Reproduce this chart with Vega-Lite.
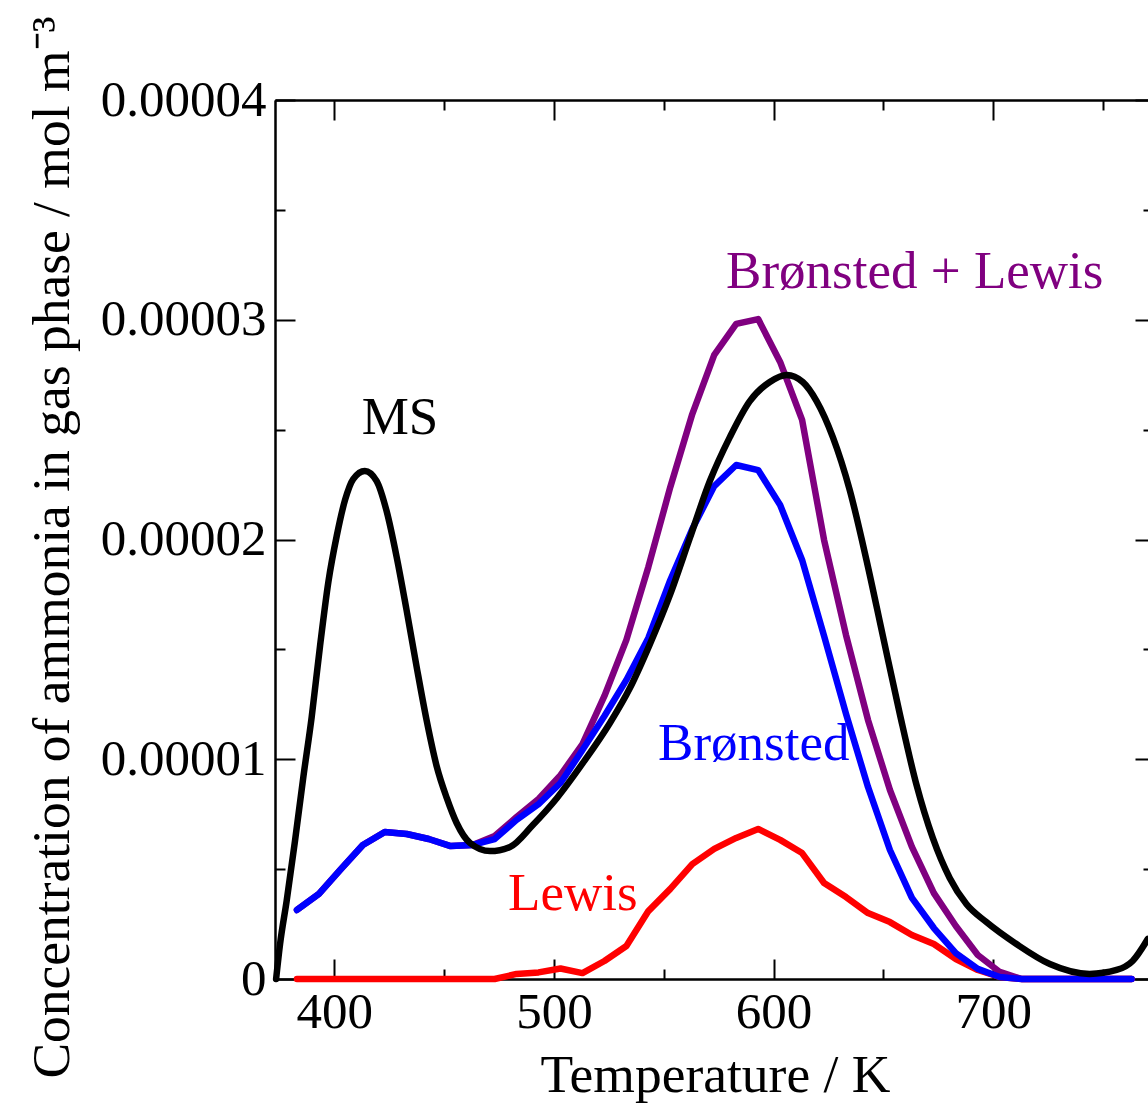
{
  "$schema": "https://vega.github.io/schema/vega-lite/v6.json",
  "width": 873,
  "height": 879,
  "autosize": {"type": "none"},
  "padding": {"left": 275, "top": 100, "right": 0, "bottom": 125},
  "background": "white",
  "config": {
    "font": "Liberation Serif",
    "view": {"stroke": null},
    "axis": {
      "grid": false,
      "domainColor": "black",
      "domainWidth": 2,
      "tickColor": "black",
      "tickWidth": 2,
      "labelFont": "Liberation Serif",
      "labelFontSize": 51,
      "labelColor": "black",
      "labelOverlap": false,
      "labelFlush": false,
      "titleFont": "Liberation Serif",
      "titleFontSize": 53.5,
      "titleFontWeight": "normal",
      "titleColor": "black"
    }
  },
  "datasets": {
    "curves": [
      {"series": "Lewis", "T": 383, "c": 0},
      {"series": "Lewis", "T": 393, "c": 0},
      {"series": "Lewis", "T": 403, "c": 0},
      {"series": "Lewis", "T": 413, "c": 0},
      {"series": "Lewis", "T": 423, "c": 0},
      {"series": "Lewis", "T": 433, "c": 0},
      {"series": "Lewis", "T": 443, "c": 0},
      {"series": "Lewis", "T": 453, "c": 0},
      {"series": "Lewis", "T": 463, "c": 0},
      {"series": "Lewis", "T": 473, "c": 0},
      {"series": "Lewis", "T": 483, "c": 2.3e-7},
      {"series": "Lewis", "T": 493, "c": 3.0e-7},
      {"series": "Lewis", "T": 503, "c": 4.8e-7},
      {"series": "Lewis", "T": 513, "c": 2.7e-7},
      {"series": "Lewis", "T": 523, "c": 8.2e-7},
      {"series": "Lewis", "T": 533, "c": 1.50e-6},
      {"series": "Lewis", "T": 543, "c": 3.09e-6},
      {"series": "Lewis", "T": 553, "c": 4.10e-6},
      {"series": "Lewis", "T": 563, "c": 5.23e-6},
      {"series": "Lewis", "T": 573, "c": 5.92e-6},
      {"series": "Lewis", "T": 583, "c": 6.42e-6},
      {"series": "Lewis", "T": 593, "c": 6.83e-6},
      {"series": "Lewis", "T": 603, "c": 6.33e-6},
      {"series": "Lewis", "T": 613, "c": 5.73e-6},
      {"series": "Lewis", "T": 623, "c": 4.37e-6},
      {"series": "Lewis", "T": 633, "c": 3.73e-6},
      {"series": "Lewis", "T": 643, "c": 3.00e-6},
      {"series": "Lewis", "T": 653, "c": 2.59e-6},
      {"series": "Lewis", "T": 663, "c": 2.00e-6},
      {"series": "Lewis", "T": 673, "c": 1.59e-6},
      {"series": "Lewis", "T": 683, "c": 9.1e-7},
      {"series": "Lewis", "T": 693, "c": 4.1e-7},
      {"series": "Lewis", "T": 703, "c": 9e-8},
      {"series": "Lewis", "T": 713, "c": 0},
      {"series": "Lewis", "T": 723, "c": 0},
      {"series": "Lewis", "T": 733, "c": 0},
      {"series": "Lewis", "T": 743, "c": 0},
      {"series": "Lewis", "T": 753, "c": 0},
      {"series": "Lewis", "T": 763, "c": 0},

      {"series": "Brønsted + Lewis", "T": 383, "c": 3.14e-6},
      {"series": "Brønsted + Lewis", "T": 393, "c": 3.87e-6},
      {"series": "Brønsted + Lewis", "T": 403, "c": 5.00e-6},
      {"series": "Brønsted + Lewis", "T": 413, "c": 6.10e-6},
      {"series": "Brønsted + Lewis", "T": 423, "c": 6.69e-6},
      {"series": "Brønsted + Lewis", "T": 433, "c": 6.60e-6},
      {"series": "Brønsted + Lewis", "T": 443, "c": 6.37e-6},
      {"series": "Brønsted + Lewis", "T": 453, "c": 6.05e-6},
      {"series": "Brønsted + Lewis", "T": 463, "c": 6.10e-6},
      {"series": "Brønsted + Lewis", "T": 473, "c": 6.51e-6},
      {"series": "Brønsted + Lewis", "T": 483, "c": 7.37e-6},
      {"series": "Brønsted + Lewis", "T": 493, "c": 8.19e-6},
      {"series": "Brønsted + Lewis", "T": 503, "c": 9.28e-6},
      {"series": "Brønsted + Lewis", "T": 513, "c": 1.069e-5},
      {"series": "Brønsted + Lewis", "T": 523, "c": 1.288e-5},
      {"series": "Brønsted + Lewis", "T": 533, "c": 1.543e-5},
      {"series": "Brønsted + Lewis", "T": 543, "c": 1.875e-5},
      {"series": "Brønsted + Lewis", "T": 553, "c": 2.239e-5},
      {"series": "Brønsted + Lewis", "T": 563, "c": 2.571e-5},
      {"series": "Brønsted + Lewis", "T": 573, "c": 2.840e-5},
      {"series": "Brønsted + Lewis", "T": 583, "c": 2.981e-5},
      {"series": "Brønsted + Lewis", "T": 593, "c": 3.003e-5},
      {"series": "Brønsted + Lewis", "T": 603, "c": 2.808e-5},
      {"series": "Brønsted + Lewis", "T": 613, "c": 2.544e-5},
      {"series": "Brønsted + Lewis", "T": 623, "c": 1.998e-5},
      {"series": "Brønsted + Lewis", "T": 633, "c": 1.565e-5},
      {"series": "Brønsted + Lewis", "T": 643, "c": 1.179e-5},
      {"series": "Brønsted + Lewis", "T": 653, "c": 8.60e-6},
      {"series": "Brønsted + Lewis", "T": 663, "c": 6.01e-6},
      {"series": "Brønsted + Lewis", "T": 673, "c": 3.91e-6},
      {"series": "Brønsted + Lewis", "T": 683, "c": 2.41e-6},
      {"series": "Brønsted + Lewis", "T": 693, "c": 1.09e-6},
      {"series": "Brønsted + Lewis", "T": 703, "c": 3.2e-7},
      {"series": "Brønsted + Lewis", "T": 713, "c": 0},
      {"series": "Brønsted + Lewis", "T": 723, "c": 0},
      {"series": "Brønsted + Lewis", "T": 733, "c": 0},
      {"series": "Brønsted + Lewis", "T": 743, "c": 0},
      {"series": "Brønsted + Lewis", "T": 753, "c": 0},
      {"series": "Brønsted + Lewis", "T": 763, "c": 0},

      {"series": "Brønsted", "T": 383, "c": 3.14e-6},
      {"series": "Brønsted", "T": 393, "c": 3.87e-6},
      {"series": "Brønsted", "T": 403, "c": 5.00e-6},
      {"series": "Brønsted", "T": 413, "c": 6.10e-6},
      {"series": "Brønsted", "T": 423, "c": 6.69e-6},
      {"series": "Brønsted", "T": 433, "c": 6.60e-6},
      {"series": "Brønsted", "T": 443, "c": 6.37e-6},
      {"series": "Brønsted", "T": 453, "c": 6.05e-6},
      {"series": "Brønsted", "T": 463, "c": 6.10e-6},
      {"series": "Brønsted", "T": 473, "c": 6.37e-6},
      {"series": "Brønsted", "T": 483, "c": 7.24e-6},
      {"series": "Brønsted", "T": 493, "c": 7.96e-6},
      {"series": "Brønsted", "T": 503, "c": 8.92e-6},
      {"series": "Brønsted", "T": 513, "c": 1.042e-5},
      {"series": "Brønsted", "T": 523, "c": 1.197e-5},
      {"series": "Brønsted", "T": 533, "c": 1.361e-5},
      {"series": "Brønsted", "T": 543, "c": 1.552e-5},
      {"series": "Brønsted", "T": 553, "c": 1.816e-5},
      {"series": "Brønsted", "T": 563, "c": 2.048e-5},
      {"series": "Brønsted", "T": 573, "c": 2.243e-5},
      {"series": "Brønsted", "T": 583, "c": 2.339e-5},
      {"series": "Brønsted", "T": 593, "c": 2.316e-5},
      {"series": "Brønsted", "T": 603, "c": 2.157e-5},
      {"series": "Brønsted", "T": 613, "c": 1.907e-5},
      {"series": "Brønsted", "T": 623, "c": 1.561e-5},
      {"series": "Brønsted", "T": 633, "c": 1.206e-5},
      {"series": "Brønsted", "T": 643, "c": 8.74e-6},
      {"series": "Brønsted", "T": 653, "c": 5.87e-6},
      {"series": "Brønsted", "T": 663, "c": 3.69e-6},
      {"series": "Brønsted", "T": 673, "c": 2.32e-6},
      {"series": "Brønsted", "T": 683, "c": 1.18e-6},
      {"series": "Brønsted", "T": 693, "c": 4.6e-7},
      {"series": "Brønsted", "T": 703, "c": 9e-8},
      {"series": "Brønsted", "T": 713, "c": 0},
      {"series": "Brønsted", "T": 723, "c": 0},
      {"series": "Brønsted", "T": 733, "c": 0},
      {"series": "Brønsted", "T": 743, "c": 0},
      {"series": "Brønsted", "T": 753, "c": 0},
      {"series": "Brønsted", "T": 763, "c": 0},

      {"series": "MS", "T": 373.5, "c": 0},
      {"series": "MS", "T": 375.3, "c": 1.59e-6},
      {"series": "MS", "T": 378.3, "c": 3.55e-6},
      {"series": "MS", "T": 382.1, "c": 6.28e-6},
      {"series": "MS", "T": 385.9, "c": 9.19e-6},
      {"series": "MS", "T": 389.7, "c": 1.192e-5},
      {"series": "MS", "T": 393.5, "c": 1.515e-5},
      {"series": "MS", "T": 397.3, "c": 1.807e-5},
      {"series": "MS", "T": 401.1, "c": 2.016e-5},
      {"series": "MS", "T": 404.9, "c": 2.180e-5},
      {"series": "MS", "T": 408.6, "c": 2.275e-5},
      {"series": "MS", "T": 413.9, "c": 2.312e-5},
      {"series": "MS", "T": 419.3, "c": 2.266e-5},
      {"series": "MS", "T": 423.8, "c": 2.130e-5},
      {"series": "MS", "T": 428.4, "c": 1.920e-5},
      {"series": "MS", "T": 432.9, "c": 1.679e-5},
      {"series": "MS", "T": 437.5, "c": 1.420e-5},
      {"series": "MS", "T": 442.0, "c": 1.179e-5},
      {"series": "MS", "T": 446.6, "c": 9.69e-6},
      {"series": "MS", "T": 451.2, "c": 8.24e-6},
      {"series": "MS", "T": 455.7, "c": 7.10e-6},
      {"series": "MS", "T": 461.8, "c": 6.19e-6},
      {"series": "MS", "T": 470.9, "c": 5.82e-6},
      {"series": "MS", "T": 480.0, "c": 6.01e-6},
      {"series": "MS", "T": 490.4, "c": 7.01e-6},
      {"series": "MS", "T": 501.4, "c": 8.24e-6},
      {"series": "MS", "T": 513.2, "c": 9.83e-6},
      {"series": "MS", "T": 525.5, "c": 1.165e-5},
      {"series": "MS", "T": 534.6, "c": 1.324e-5},
      {"series": "MS", "T": 543.7, "c": 1.524e-5},
      {"series": "MS", "T": 552.8, "c": 1.747e-5},
      {"series": "MS", "T": 561.9, "c": 2.007e-5},
      {"series": "MS", "T": 571.0, "c": 2.266e-5},
      {"series": "MS", "T": 580.1, "c": 2.466e-5},
      {"series": "MS", "T": 589.2, "c": 2.630e-5},
      {"series": "MS", "T": 598.3, "c": 2.717e-5},
      {"series": "MS", "T": 606.0, "c": 2.749e-5},
      {"series": "MS", "T": 613.3, "c": 2.717e-5},
      {"series": "MS", "T": 619.6, "c": 2.630e-5},
      {"series": "MS", "T": 627.0, "c": 2.466e-5},
      {"series": "MS", "T": 634.7, "c": 2.225e-5},
      {"series": "MS", "T": 642.3, "c": 1.907e-5},
      {"series": "MS", "T": 649.7, "c": 1.565e-5},
      {"series": "MS", "T": 657.5, "c": 1.206e-5},
      {"series": "MS", "T": 665.1, "c": 8.83e-6},
      {"series": "MS", "T": 672.5, "c": 6.42e-6},
      {"series": "MS", "T": 680.2, "c": 4.60e-6},
      {"series": "MS", "T": 687.8, "c": 3.41e-6},
      {"series": "MS", "T": 696.9, "c": 2.59e-6},
      {"series": "MS", "T": 710.6, "c": 1.59e-6},
      {"series": "MS", "T": 725.8, "c": 6.8e-7},
      {"series": "MS", "T": 743.9, "c": 2.3e-7},
      {"series": "MS", "T": 756.2, "c": 4.1e-7},
      {"series": "MS", "T": 763.5, "c": 8.2e-7},
      {"series": "MS", "T": 770.4, "c": 1.82e-6}
    ],
    "labels": [
      {"series": "MS", "T": 429.9, "c": 2.48e-5},
      {"series": "Brønsted + Lewis", "T": 664.3, "c": 3.144e-5},
      {"series": "Brønsted", "T": 591.0, "c": 9.97e-6},
      {"series": "Lewis", "T": 508.6, "c": 3.14e-6}
    ]
  },
  "layer": [
    {
      "data": {"name": "curves"},
      "transform": [{"filter": {"field": "series", "oneOf": ["Lewis", "Brønsted + Lewis"]}}],
      "mark": {"type": "line", "strokeWidth": 6.5, "strokeCap": "round", "strokeJoin": "round"},
      "encoding": {
        "x": {"field": "T", "type": "quantitative",
          "scale": {"domain": [373, 770.5], "nice": false, "zero": false},
          "axis": {"orient": "bottom", "values": [400, 500, 600, 700], "tickSize": -20, "labelPadding": 28,
            "title": "Temperature / K", "titleX": 440, "titleY": 112, "titleAlign": "center", "titleBaseline": "alphabetic"}},
        "y": {"field": "c", "type": "quantitative",
          "scale": {"domain": [0, 0.00004], "nice": false},
          "axis": {"orient": "left", "values": [0, 0.00001, 0.00002, 0.00003, 0.00004], "tickSize": -20, "labelPadding": 29,
            "labelExpr": "datum.value == 0 ? '0' : format(datum.value, '.5f')", "labelBaseline": "middle",
            "title": "Concentration of ammonia in gas phase / mol m⁻³", "titleAngle": -90, "titleX": -207, "titleY": 447,
            "titleAlign": "center", "titleBaseline": "alphabetic"}},
        "color": {"field": "series", "type": "nominal",
          "scale": {"domain": ["MS", "Brønsted", "Lewis", "Brønsted + Lewis"], "range": ["#000000", "#0000ff", "#ff0000", "#800080"]},
          "legend": null}
      }
    },
    {
      "data": {"name": "curves"},
      "transform": [{"filter": {"field": "series", "equal": "Brønsted"}}],
      "mark": {"type": "line", "strokeWidth": 6.5, "strokeCap": "round", "strokeJoin": "round"},
      "encoding": {
        "x": {"field": "T", "type": "quantitative",
          "scale": {"domain": [373, 770.5], "nice": false, "zero": false},
          "axis": {"orient": "top", "values": [400, 500, 600, 700], "tickSize": -20, "labels": false, "title": null}},
        "y": {"field": "c", "type": "quantitative",
          "scale": {"domain": [0, 0.00004], "nice": false},
          "axis": {"orient": "right", "values": [0, 0.00001, 0.00002, 0.00003, 0.00004], "tickSize": -13, "labels": false, "title": null, "domain": false}},
        "color": {"field": "series", "type": "nominal", "legend": null}
      }
    },
    {
      "data": {"name": "curves"},
      "transform": [{"filter": {"field": "series", "equal": "MS"}}],
      "mark": {"type": "line", "strokeWidth": 6.5, "interpolate": "monotone", "strokeCap": "round", "strokeJoin": "round"},
      "encoding": {
        "x": {"field": "T", "type": "quantitative",
          "scale": {"domain": [373, 770.5], "nice": false, "zero": false},
          "axis": {"orient": "bottom", "values": [450, 550, 650, 750], "tickSize": -10, "labels": false, "title": null}},
        "y": {"field": "c", "type": "quantitative",
          "scale": {"domain": [0, 0.00004], "nice": false},
          "axis": {"orient": "left", "values": [0.000005, 0.000015, 0.000025, 0.000035], "tickSize": -10, "labels": false, "title": null}},
        "color": {"field": "series", "type": "nominal", "legend": null}
      }
    },
    {
      "data": {"name": "labels"},
      "mark": {"type": "text", "fontSize": 53, "font": "Liberation Serif", "align": "center", "baseline": "alphabetic"},
      "encoding": {
        "x": {"field": "T", "type": "quantitative",
          "scale": {"domain": [373, 770.5], "nice": false, "zero": false},
          "axis": {"orient": "top", "values": [450, 550, 650, 750], "tickSize": -10, "labels": false, "title": null}},
        "y": {"field": "c", "type": "quantitative",
          "scale": {"domain": [0, 0.00004], "nice": false},
          "axis": {"orient": "right", "values": [0.000005, 0.000015, 0.000025, 0.000035], "tickSize": -5, "labels": false, "title": null, "domain": false}},
        "text": {"field": "series"},
        "color": {"field": "series", "type": "nominal", "legend": null}
      }
    }
  ],
  "resolve": {"axis": {"x": "independent", "y": "independent"}}
}
